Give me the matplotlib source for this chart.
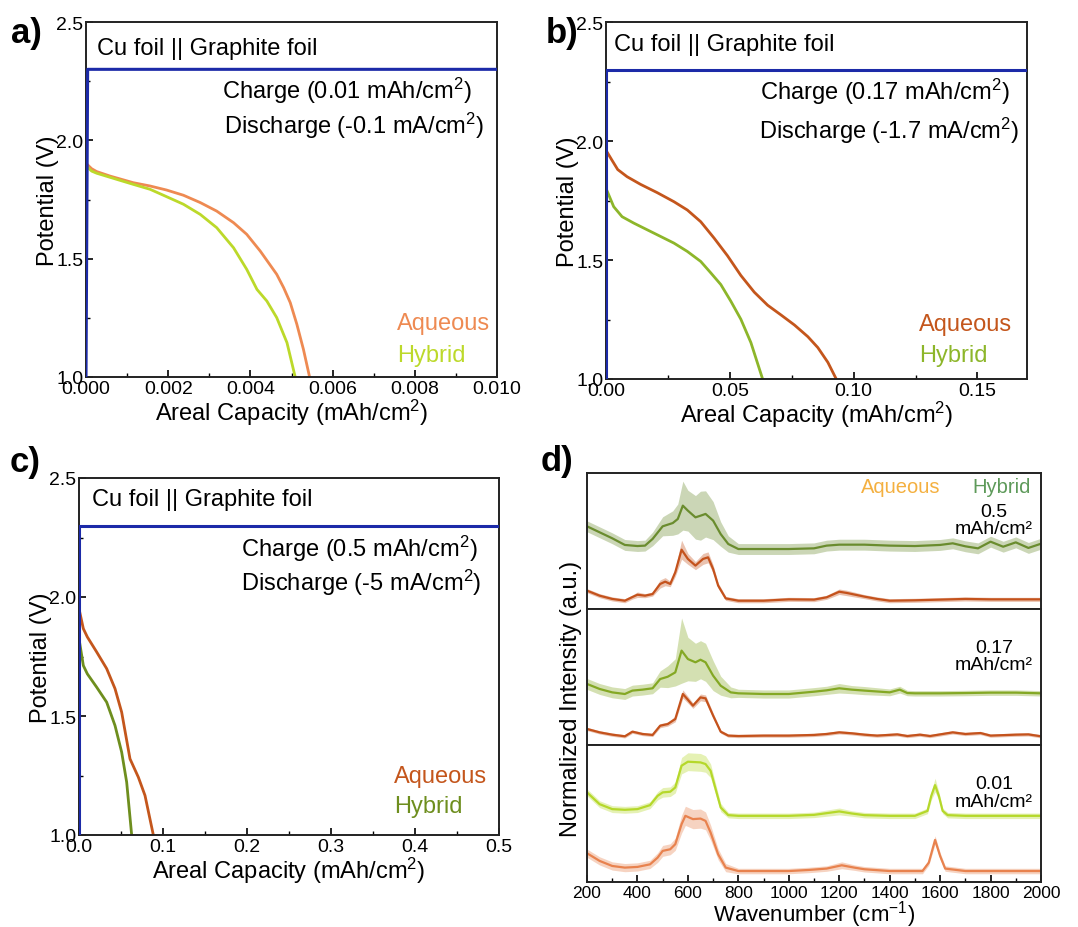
import numpy as np
import matplotlib
matplotlib.use("Agg")
import matplotlib.pyplot as plt
from matplotlib.ticker import MultipleLocator

plt.rcParams['font.family'] = ['Liberation Sans', 'DejaVu Sans']
plt.rcParams['mathtext.fontset'] = 'custom'
plt.rcParams['mathtext.rm'] = 'Liberation Sans'
plt.rcParams['mathtext.it'] = 'Liberation Sans:italic'

# ---------- PANEL a : 0.01 mAh/cm2 ----------
a_charge_x = [0.0, 0.00004, 0.010]
a_charge_y = [1.0, 2.30, 2.30]
a_aq_x = [0.0, 0.000138, 0.00026, 0.000584, 0.00115, 0.00156, 0.00196, 0.00237, 0.00278, 0.00318,
          0.00359, 0.00391, 0.00424, 0.00464, 0.00481, 0.00497, 0.00513, 0.00529, 0.00544]
a_aq_y = [1.903, 1.880, 1.868, 1.849, 1.821, 1.807, 1.790, 1.768, 1.737, 1.701,
          1.652, 1.603, 1.532, 1.434, 1.377, 1.314, 1.223, 1.117, 1.0]
a_hy_x = [0.0, 0.000138, 0.00026, 0.00075, 0.00115, 0.00156, 0.00196, 0.00237, 0.00278, 0.00318,
          0.00359, 0.00391, 0.00416, 0.0044, 0.00464, 0.00489, 0.00509]
a_hy_y = [1.892, 1.870, 1.861, 1.835, 1.814, 1.793, 1.762, 1.730, 1.687, 1.631,
          1.546, 1.455, 1.370, 1.321, 1.251, 1.145, 1.0]

# ---------- PANEL b : 0.17 mAh/cm2 ----------
b_charge_x = [0.0, 0.0, 0.17]
b_charge_y = [1.0, 2.30, 2.30]
b_aq_x = [0.0, 0.00243, 0.00473, 0.00851, 0.01392, 0.02068, 0.02743, 0.03284, 0.03824, 0.04365,
          0.04905, 0.05446, 0.05986, 0.06527, 0.07068, 0.07608, 0.08149, 0.08554, 0.08959, 0.09297]
b_aq_y = [1.961, 1.919, 1.880, 1.850, 1.818, 1.783, 1.745, 1.710, 1.661, 1.592,
          1.518, 1.435, 1.365, 1.310, 1.269, 1.227, 1.178, 1.132, 1.070, 1.0]
b_hy_x = [0.0, 0.00311, 0.00649, 0.01122, 0.01662, 0.02203, 0.02743, 0.03284, 0.03824, 0.0423,
          0.04635, 0.0504, 0.05446, 0.05851, 0.06324]
b_hy_y = [1.801, 1.724, 1.682, 1.655, 1.627, 1.599, 1.571, 1.536, 1.494, 1.446,
          1.397, 1.327, 1.251, 1.153, 1.0]

# ---------- PANEL c : 0.5 mAh/cm2 ----------
c_charge_x = [0.0, 0.0, 0.5]
c_charge_y = [1.0, 2.30, 2.30]
c_aq_x = [0.0, 0.00516, 0.00992, 0.02103, 0.03294, 0.04286, 0.05079, 0.06071, 0.07063, 0.07857, 0.0885]
c_aq_y = [1.951, 1.867, 1.832, 1.769, 1.699, 1.615, 1.516, 1.320, 1.243, 1.166, 1.0]
c_hy_x = [0.0, 0.00516, 0.00992, 0.02103, 0.03294, 0.04286, 0.05079, 0.05675, 0.0627]
c_hy_y = [1.825, 1.712, 1.677, 1.621, 1.558, 1.460, 1.348, 1.222, 1.0]

# ---------- PANEL d : Raman spectra ----------
# 0.5 mAh/cm2
d1_hy_w = [200, 250, 300, 350, 400, 430, 460, 500, 540, 560, 580, 600, 630, 650, 670, 700, 730, 760,
           800, 900, 1000, 1100, 1150, 1200, 1300, 1400, 1500, 1600, 1650, 1700, 1750, 1800, 1850,
           1900, 1950, 2000]
d1_hy_i = [60.8, 56.4, 52.0, 47.1, 46.3, 46.6, 51.5, 60.8, 63.2, 66.2, 76.0, 72.3, 67.4, 68.6, 69.9,
           65.0, 55.1, 47.8, 44.1, 44.1, 44.1, 44.6, 46.6, 47.3, 47.3, 46.6, 46.3, 47.1, 48.3, 46.1,
           44.6, 49.5, 45.8, 49.0, 44.9, 48.0]
d1_hy_sd = [4, 4, 4, 4, 4, 4, 5, 7, 9, 11, 18, 15, 16, 18, 17, 14, 9, 6, 4, 4, 4, 4, 4, 4, 4, 4, 4,
            4, 4, 4, 4, 4, 4, 4, 4, 4]
d1_aq_w = [200, 250, 300, 350, 380, 400, 430, 460, 490, 510, 530, 550, 575, 600, 630, 660, 680, 700,
           720, 750, 800, 900, 1000, 1100, 1150, 1200, 1230, 1300, 1350, 1400, 1500, 1600, 1700,
           1800, 1900, 2000]
d1_aq_i = [13.5, 9.8, 7.4, 6.1, 8.8, 10.5, 9.8, 11.0, 18.4, 20.1, 18.4, 27.0, 43.6, 36.8, 31.9,
           36.8, 38.0, 29.4, 17.2, 7.8, 6.1, 6.1, 7.1, 6.9, 8.6, 12.7, 11.8, 9.1, 7.4, 6.1, 6.4, 6.9,
           7.4, 7.1, 7.1, 7.1]
d1_aq_sd = [1.5, 1.5, 1.5, 1.5, 1.5, 2, 1.5, 1.5, 3, 3, 2, 3, 7, 4, 3, 4, 4, 3, 2, 1.5, 1.5, 1.5,
            1.5, 1.5, 1.5, 2, 2, 1.5, 1.5, 1.5, 1.5, 1.5, 1.5, 1.5, 1.5, 1.5]

# 0.17 mAh/cm2
d2_hy_w = [200, 250, 300, 350, 380, 420, 460, 490, 520, 550, 575, 600, 630, 650, 670, 700, 730, 770,
           800, 900, 1000, 1100, 1150, 1200, 1250, 1300, 1400, 1440, 1470, 1500, 1600, 1700, 1800,
           1900, 2000]
d2_hy_i = [44.9, 41.2, 38.7, 37.5, 40.0, 40.7, 41.7, 48.5, 50.2, 53.4, 69.4, 63.2, 60.8, 62.7, 60.8,
           51.0, 43.6, 38.7, 38.0, 37.5, 37.5, 39.2, 40.2, 41.7, 40.7, 40.0, 38.7, 40.7, 38.2, 38.0,
           38.0, 38.2, 38.5, 38.5, 38.0]
d2_hy_sd = [4, 4, 4, 4, 4, 4, 4, 6, 8, 10, 24, 16, 14, 14, 14, 11, 7, 4, 3, 3, 3, 3, 3, 3.5, 3, 3,
            2.5, 2.5, 2, 2, 2, 2, 2, 2, 2]
d2_aq_w = [200, 250, 300, 350, 380, 420, 460, 490, 520, 550, 580, 600, 620, 650, 670, 700, 730, 760,
           800, 900, 1000, 1100, 1150, 1200, 1250, 1300, 1350, 1430, 1470, 1520, 1560, 1650, 1700,
           1760, 1800, 1900, 1950, 2000]
d2_aq_i = [11.8, 9.3, 7.6, 6.4, 9.8, 8.1, 7.4, 14.2, 15.4, 19.1, 37.5, 33.3, 28.9, 35.0, 34.3, 21.6,
           9.8, 6.9, 6.6, 6.9, 6.9, 7.4, 8.1, 9.3, 8.6, 7.6, 6.9, 7.8, 6.6, 7.6, 6.6, 9.3, 8.1, 8.8,
           6.9, 7.6, 7.8, 6.4]
d2_aq_sd = [1.2, 1.2, 1.2, 1.2, 1.2, 1.2, 1.2, 1.5, 1.5, 2, 3, 2.5, 2, 2.5, 2.5, 2, 1.2, 1.2, 1.2,
            1.2, 1.2, 1.2, 1.2, 1.2, 1.2, 1.2, 1.2, 1.2, 1.2, 1.2, 1.2, 1.2, 1.2, 1.2, 1.2, 1.2,
            1.2, 1.2]

# 0.01 mAh/cm2
d3_hy_w = [200, 250, 300, 350, 400, 450, 480, 500, 530, 550, 575, 600, 650, 670, 690, 710, 730, 760,
           800, 900, 1000, 1100, 1200, 1250, 1300, 1400, 1500, 1550, 1565, 1580, 1595, 1610, 1630,
           1700, 1800, 2000]
d3_hy_i = [65.4, 56.8, 53.2, 52.7, 53.2, 56.1, 62.9, 65.4, 65.9, 69.0, 84.9, 87.8, 87.3, 86.1, 81.2,
           67.8, 54.4, 48.8, 48.3, 48.3, 48.3, 49.0, 51.5, 50.0, 48.8, 48.3, 48.3, 51.9, 62.9, 70.7,
           62.9, 51.9, 48.8, 48.3, 48.3, 48.3]
d3_hy_sd = [2.5, 2.5, 2.5, 2.5, 2.5, 2.5, 3, 3.5, 3.5, 4, 6, 6.5, 6.5, 6, 5, 4, 3, 2, 2, 2, 2, 2,
            2.5, 2, 2, 2, 2, 2, 3, 5, 3, 2, 2, 2, 2, 2]
d3_aq_w = [200, 250, 300, 350, 400, 450, 480, 500, 530, 550, 575, 590, 620, 650, 670, 690, 720, 750,
           800, 1000, 1080, 1150, 1210, 1260, 1300, 1400, 1530, 1555, 1580, 1600, 1620, 1700, 2000]
d3_aq_i = [21.0, 15.4, 11.7, 10.5, 11.0, 12.9, 17.8, 22.7, 23.9, 27.6, 42.2, 48.3, 45.9, 46.3, 44.6,
           36.1, 20.2, 10.5, 8.0, 8.0, 8.8, 9.8, 12.2, 10.5, 9.3, 8.0, 8.0, 14.1, 30.7, 19.0, 9.8,
           8.0, 8.0]
d3_aq_sd = [3, 3, 3, 3, 3, 3, 3.5, 4, 4, 4.5, 6.5, 7, 7, 7, 6.5, 5.5, 4, 3, 2, 2, 2, 2, 2.5, 2, 2,
            2, 2, 2, 3, 2.5, 2, 2, 2]

# ---------- COLOURS ----------
BLUE = "#1c2aa8"
AQ_LIGHT, HY_LIGHT = "#ee8a52", "#bcd92a"
AQ_DARK, HY_MID, HY_OLIVE = "#c4561c", "#8db62a", "#6e8e1e"

fig = plt.figure(figsize=(10.78, 9.28), dpi=100)
W, H = 1078.0, 928.0


def ax_px(left, top, right, bottom):
    return fig.add_axes([left / W, 1 - bottom / H, (right - left) / W, (bottom - top) / H])


def style_axis(ax, xmax, xmajor, xminor, fmt):
    ax.set_xlim(0, xmax)
    ax.set_ylim(1.0, 2.5)
    ax.xaxis.set_major_locator(MultipleLocator(xmajor))
    ax.xaxis.set_minor_locator(MultipleLocator(xminor))
    ax.yaxis.set_major_locator(MultipleLocator(0.5))
    ax.yaxis.set_minor_locator(MultipleLocator(0.25))
    ax.xaxis.set_major_formatter(plt.FormatStrFormatter(fmt))
    ax.yaxis.set_major_formatter(plt.FormatStrFormatter("%.1f"))
    ax.tick_params(which="both", direction="in", top=False, right=False, labelsize=14, pad=2)
    ax.tick_params(which="major", length=5, width=1.2)
    ax.tick_params(which="minor", length=3, width=1.0)
    for s in ax.spines.values():
        s.set_linewidth(1.4)
        s.set_color("#222222")
    ax.set_xlabel("Areal Capacity (mAh/cm$^2$)", fontsize=17, labelpad=0)
    ax.set_ylabel("Potential (V)", fontsize=17, labelpad=-2)


def add_texts(ax, charge, discharge, pos, aq_col, hy_col):
    ax.text(pos[0], pos[1], "Cu foil || Graphite foil", transform=ax.transAxes,
            fontsize=17, va="center", ha="left")
    ax.text(pos[2], pos[3], charge, transform=ax.transAxes, fontsize=17, va="center", ha="right")
    ax.text(pos[4], pos[5], discharge, transform=ax.transAxes, fontsize=17, va="center", ha="right")
    ax.text(pos[6], pos[7], "Aqueous", transform=ax.transAxes, fontsize=17, va="center",
            ha="left", color=aq_col)
    ax.text(pos[6], pos[8], "Hybrid", transform=ax.transAxes, fontsize=17, va="center",
            ha="left", color=hy_col)


# ---------- a ----------
ax_a = ax_px(86, 23, 497, 378)
ax_a.plot(a_charge_x, a_charge_y, color=BLUE, lw=2.2, zorder=3)
ax_a.plot(a_aq_x, a_aq_y, color=AQ_LIGHT, lw=2)
ax_a.plot(a_hy_x, a_hy_y, color=HY_LIGHT, lw=2)
style_axis(ax_a, 0.010, 0.002, 0.001, "%.3f")
add_texts(ax_a, "Charge (0.01 mAh/cm$^2$)", "Discharge (-0.1 mA/cm$^2$)",
          [0.026, 0.928, 0.939, 0.808, 0.968, 0.709, 0.757, 0.153, 0.061], AQ_LIGHT, HY_LIGHT)

# ---------- b ----------
ax_b = ax_px(606, 23, 1027, 380)
ax_b.plot(b_charge_x, b_charge_y, color=BLUE, lw=2.2, zorder=3)
ax_b.plot(b_aq_x, b_aq_y, color=AQ_DARK, lw=2)
ax_b.plot(b_hy_x, b_hy_y, color=HY_MID, lw=2)
style_axis(ax_b, 0.17, 0.05, 0.025, "%.2f")
add_texts(ax_b, "Charge (0.17 mAh/cm$^2$)", "Discharge (-1.7 mA/cm$^2$)",
          [0.018, 0.937, 0.96, 0.807, 0.982, 0.697, 0.744, 0.154, 0.067], AQ_DARK, HY_MID)

# ---------- c ----------
ax_c = ax_px(79, 479, 499, 836)
ax_c.plot(c_charge_x, c_charge_y, color=BLUE, lw=2.2, zorder=3)
ax_c.plot(c_aq_x, c_aq_y, color=AQ_DARK, lw=2)
ax_c.plot(c_hy_x, c_hy_y, color=HY_OLIVE, lw=2)
style_axis(ax_c, 0.5, 0.1, 0.05, "%.1f")
add_texts(ax_c, "Charge (0.5 mAh/cm$^2$)", "Discharge (-5 mA/cm$^2$)",
          [0.03, 0.94, 0.948, 0.804, 0.959, 0.708, 0.75, 0.166, 0.08], AQ_DARK, HY_OLIVE)

# ---------- d ----------
d_sets = [
    (d1_hy_w, d1_hy_i, d1_hy_sd, "#6a8c2e", d1_aq_w, d1_aq_i, d1_aq_sd, "#c4521c", "0.5\nmAh/cm²"),
    (d2_hy_w, d2_hy_i, d2_hy_sd, "#84a824", d2_aq_w, d2_aq_i, d2_aq_sd, "#c4521c", "0.17\nmAh/cm²"),
    (d3_hy_w, d3_hy_i, d3_hy_sd, "#b5d82a", d3_aq_w, d3_aq_i, d3_aq_sd, "#e8824e", "0.01\nmAh/cm²"),
]
bounds = [(474, 610), (610, 746), (746, 883)]
d_axes = []
for (top, bot), (hw, hi, hs, hc, aw, ai, asd, ac, lab) in zip(bounds, d_sets):
    ax = ax_px(587, top, 1041, bot)
    hw, hi, hs = np.array(hw), np.array(hi), np.array(hs)
    aw, ai, asd = np.array(aw), np.array(ai), np.array(asd)
    ax.fill_between(hw, hi - hs, hi + hs, color=hc, alpha=0.35, lw=0)
    ax.plot(hw, hi, color=hc, lw=1.6)
    ax.fill_between(aw, ai - asd, ai + asd, color=ac, alpha=0.35, lw=0)
    ax.plot(aw, ai, color=ac, lw=1.6)
    ax.set_xlim(200, 2000)
    ax.set_ylim(0, 100)
    ax.set_yticks([])
    ax.xaxis.set_major_locator(MultipleLocator(200))
    ax.xaxis.set_minor_locator(MultipleLocator(100))
    ax.tick_params(which="both", direction="in", top=False, labelsize=12.5, pad=2)
    ax.tick_params(which="major", length=5, width=1.2)
    ax.tick_params(which="minor", length=3, width=1.0)
    for s in ax.spines.values():
        s.set_linewidth(1.4)
        s.set_color("#222222")
    ax.text(0.896, 0.655, lab, transform=ax.transAxes, fontsize=14, ha="center", va="center",
            linespacing=1.05)
    d_axes.append(ax)

for ax in d_axes[:-1]:
    ax.tick_params(labelbottom=False, bottom=False, which="both")
d_axes[-1].set_xlabel("Wavenumber (cm$^{-1}$)", fontsize=16, labelpad=-1)
d_axes[0].text(0.69, 0.9, "Aqueous", transform=d_axes[0].transAxes, fontsize=14.5,
               ha="center", va="center", color="#f4b040")
d_axes[0].text(0.913, 0.9, "Hybrid", transform=d_axes[0].transAxes, fontsize=14.5,
               ha="center", va="center", color="#5e9a5a")
fig.text(571 / W, 1 - 699 / H, "Normalized Intensity (a.u.)", rotation=90, fontsize=17,
         ha="center", va="center")

# ---------- panel letters ----------
for lx, ly, lt in [(26, 33, "a)"), (562, 33, "b)"), (25, 463, "c)"), (557, 462, "d)")]:
    fig.text(lx / W, 1 - ly / H, lt, fontsize=25, fontweight="bold", ha="center", va="center")

fig.savefig("out.png", dpi=100)
